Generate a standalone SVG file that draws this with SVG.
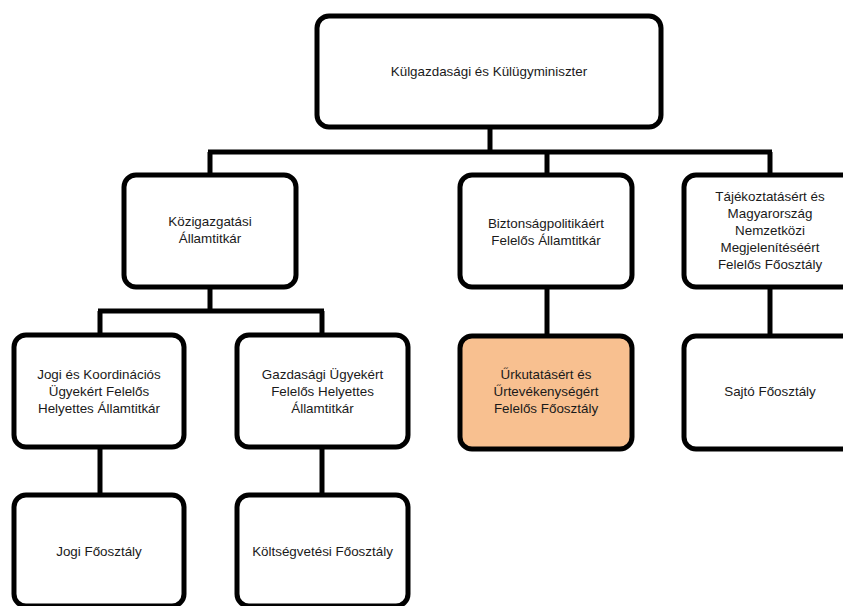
<svg xmlns="http://www.w3.org/2000/svg" width="843" height="606" viewBox="0 0 843 606">
  <style>
    .box { fill: #ffffff; stroke: #000000; stroke-width: 5; }
    .hl { fill: #f8c090; }
    .lbl { font-family: "Liberation Sans", Arial, sans-serif; font-size: 13.4px; fill: #1a1a1a; text-anchor: middle; }
    .wire { fill: none; stroke: #000000; stroke-width: 5; stroke-linejoin: miter; }
  </style>
  <rect width="843" height="606" fill="#ffffff"/>

  <!-- connectors -->
  <g id="connectors" class="wire">
    <path d="M490,128 V152"/>
    <path d="M208,152 H772"/>
    <path d="M210,152 V173"/>
    <path d="M547,152 V173"/>
    <path d="M770,152 V173"/>
    <path d="M210,288 V311"/>
    <path d="M98,311 H324"/>
    <path d="M100,311 V333"/>
    <path d="M322,311 V333"/>
    <path d="M547,288 V335"/>
    <path d="M770,288 V335"/>
    <path d="M100,448 V493"/>
    <path d="M322,448 V493"/>
  </g>

  <!-- top -->
  <g id="miniszter">
    <rect class="box" x="317" y="16" width="344" height="111" rx="12"/>
    <text class="lbl" x="489" y="76">Külgazdasági és Külügyminiszter</text>
  </g>

  <!-- second level -->
  <g id="kozigazgatasi">
    <rect class="box" x="124" y="175" width="172" height="112" rx="12"/>
    <text class="lbl" x="210" y="226">Közigazgatási</text>
    <text class="lbl" x="210" y="243">Államtitkár</text>
  </g>
  <g id="biztonsagpolitikai">
    <rect class="box" x="460" y="175" width="172" height="112" rx="12"/>
    <text class="lbl" x="546" y="228">Biztonságpolitikáért</text>
    <text class="lbl" x="546" y="245">Felelős Államtitkár</text>
  </g>
  <g id="tajekoztatasi">
    <rect class="box" x="684" y="175" width="172" height="112" rx="12"/>
    <text class="lbl" x="770" y="201">Tájékoztatásért és</text>
    <text class="lbl" x="770" y="218">Magyarország</text>
    <text class="lbl" x="770" y="235">Nemzetközi</text>
    <text class="lbl" x="770" y="252">Megjelenítéséért</text>
    <text class="lbl" x="770" y="269">Felelős Főosztály</text>
  </g>

  <!-- third level -->
  <g id="jogi-koord">
    <rect class="box" x="14" y="335" width="170" height="112" rx="12"/>
    <text class="lbl" x="99" y="379">Jogi és Koordinációs</text>
    <text class="lbl" x="99" y="396">Ügyekért Felelős</text>
    <text class="lbl" x="99" y="413">Helyettes Államtitkár</text>
  </g>
  <g id="gazdasagi">
    <rect class="box" x="237" y="335" width="171" height="112" rx="12"/>
    <text class="lbl" x="322.5" y="379">Gazdasági Ügyekért</text>
    <text class="lbl" x="322.5" y="396">Felelős Helyettes</text>
    <text class="lbl" x="322.5" y="413">Államtitkár</text>
  </g>
  <g id="urkutatas">
    <rect class="box hl" x="460" y="336" width="172" height="113" rx="12"/>
    <text class="lbl" x="546" y="379">Űrkutatásért és</text>
    <text class="lbl" x="546" y="396">Űrtevékenységért</text>
    <text class="lbl" x="546" y="413">Felelős Főosztály</text>
  </g>
  <g id="sajto">
    <rect class="box" x="684" y="336" width="172" height="113" rx="12"/>
    <text class="lbl" x="770" y="396">Sajtó Főosztály</text>
  </g>

  <!-- fourth level -->
  <g id="jogi-foosztaly">
    <rect class="box" x="14" y="495" width="170" height="111" rx="12"/>
    <text class="lbl" x="99" y="556">Jogi Főosztály</text>
  </g>
  <g id="koltsegvetesi">
    <rect class="box" x="237" y="495" width="171" height="111" rx="12"/>
    <text class="lbl" x="322.5" y="556">Költségvetési Főosztály</text>
  </g>
</svg>
